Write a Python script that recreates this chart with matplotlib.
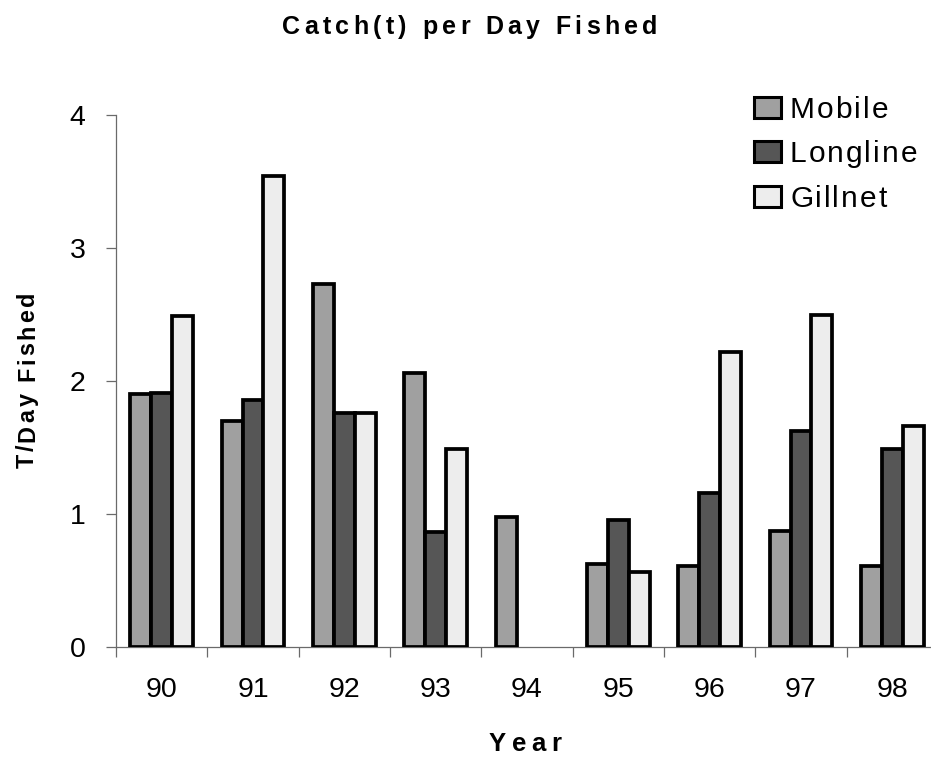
import numpy as np
import matplotlib
matplotlib.use("Agg")
import matplotlib.pyplot as plt
from matplotlib.font_manager import FontProperties
from matplotlib.textpath import TextToPath
from matplotlib.patches import Rectangle

# Catch (tonnes) per day fished, by gear type
years = ["90", "91", "92", "93", "94", "95", "96", "97", "98"]
mobile = [1.90, 1.70, 2.73, 2.06, 0.98, 0.62, 0.61, 0.87, 0.61]
longline = [1.91, 1.86, 1.76, 0.86, np.nan, 0.95, 1.16, 1.62, 1.49]
gillnet = [2.49, 3.54, 1.76, 1.49, np.nan, 0.565, 2.22, 2.50, 1.66]
series_names = ["Mobile", "Longline", "Gillnet"]
y_ticks = [0, 1, 2, 3, 4]

W, H, DPI = 931, 761, 100
FONT = "Liberation Sans"

fig = plt.figure(figsize=(W / DPI, H / DPI), dpi=DPI)
fig.patch.set_facecolor("white")

# plot area, in pixels (the category axis runs past the right edge)
left_px, right_px, top_px, bottom_px = 116, 938, 115.3, 646.7
ax = fig.add_axes([left_px / W, 1 - bottom_px / H,
                   (right_px - left_px) / W, (bottom_px - top_px) / H])

x = np.arange(len(years))
bw = 0.228
colors = ["#a0a0a0", "#565656", "#ededed"]
edge_lw = 2.7
for i, (vals, col, name) in enumerate(zip([mobile, longline, gillnet], colors, series_names)):
    ax.bar(x + (i - 1) * bw, vals, width=bw, color=col, edgecolor="black",
           linewidth=edge_lw, label=name, zorder=3)

ax.set_xlim(-0.5, len(years) - 0.5)
ax.set_ylim(0, 4)

# spines and ticks
for s in ["top", "right"]:
    ax.spines[s].set_visible(False)
for s in ["left", "bottom"]:
    ax.spines[s].set_color("#6a6a6a")
    ax.spines[s].set_linewidth(0.9)

ax.set_yticks(y_ticks)
ax.set_yticklabels([str(v) for v in y_ticks], fontfamily=FONT, fontsize=20.5)
ax.tick_params(axis="y", direction="out", length=7, width=0.9, color="#6a6a6a", pad=15)

# category boundaries carry the tick marks, labels sit under group centres
ax.set_xticks(np.arange(len(years) + 1) - 0.5)
ax.set_xticklabels([])
ax.set_xticks(x, minor=True)
ax.set_xticklabels(years, minor=True, fontfamily=FONT, fontsize=20.5)
ax.tick_params(axis="x", which="major", direction="out", length=7, width=0.9, color="#6a6a6a")
ax.tick_params(axis="x", which="minor", length=0, pad=22)

# letter-spaced text helper (positions in pixels from the top-left corner)
_t2p = TextToPath()


def tracked_text(s, x_px, y_px, size, weight="normal", tracking=0.0,
                 rotation=0, align="center"):
    prop = FontProperties(family=FONT, size=size, weight=weight)
    widths = []
    for ch in s:
        w, _, _ = _t2p.get_text_width_height_descent(ch, prop, ismath=False)
        widths.append(w * DPI / 72.0)
    total = sum(widths) + tracking * (len(s) - 1)
    pos = -total / 2.0 if align == "center" else 0.0
    for ch, w in zip(s, widths):
        if rotation == 0:
            fx, fy = (x_px + pos) / W, 1 - y_px / H
        else:
            fx, fy = x_px / W, 1 - (y_px - pos) / H
        fig.text(fx, fy, ch, fontproperties=prop, rotation=rotation,
                 rotation_mode="anchor", ha="left", va="baseline")
        pos += w + tracking


tracked_text("Catch(t) per Day Fished", 469.5, 34, 18, "bold", 4.3)
tracked_text("Year", 525, 751, 18.5, "bold", 5.5)
tracked_text("T/Day Fished", 34, 380, 16.8, "bold", 2.8, rotation=90)

# legend: swatch plus letter-spaced label for each series
legend_baselines = [118, 162, 207]
for name, col, base in zip(series_names, colors, legend_baselines):
    sw_left, sw_w, sw_h = 754, 27, 21
    fig.add_artist(Rectangle((sw_left / W, 1 - base / H), sw_w / W, sw_h / H,
                             transform=fig.transFigure, facecolor=col,
                             edgecolor="black", linewidth=2.2))
    tracked_text(name, 790, base, 21.5, "normal", 2.0, align="left")

fig.savefig("out.png", dpi=DPI, facecolor="white")
